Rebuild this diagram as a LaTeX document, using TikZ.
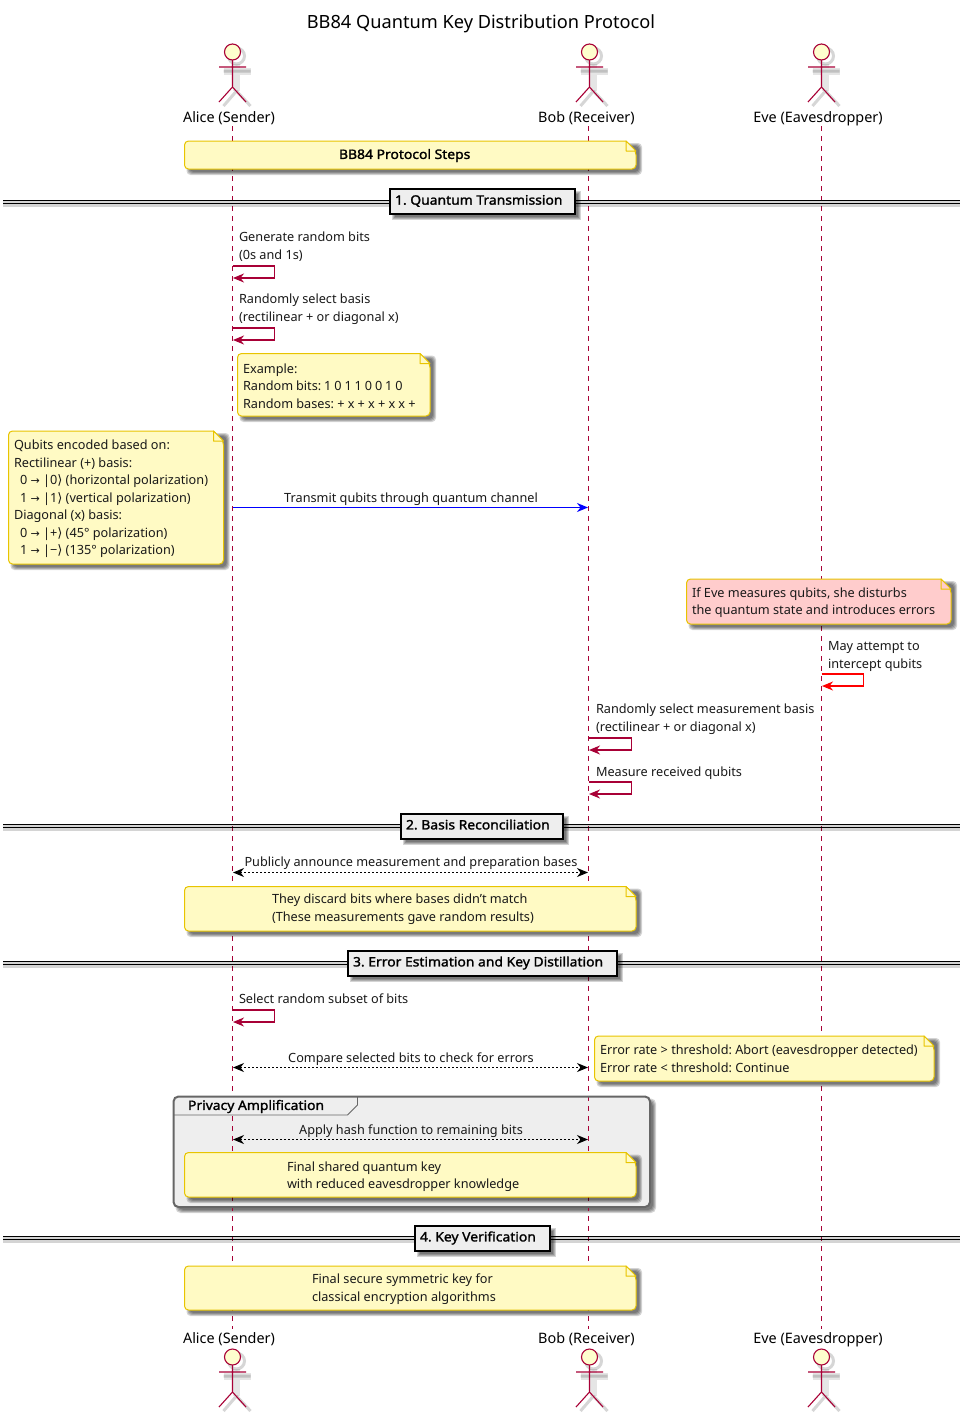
\documentclass[tikz,border=0pt]{standalone}
\usepackage{fontspec}
\setmainfont{Noto Sans}
\newfontfamily\boldfam{Noto Sans}[FakeBold=1.6,FakeStretch=1.07]
\newfontfamily\symfam{DejaVu Sans}
\usetikzlibrary{arrows.meta}
\frenchspacing
\definecolor{umlred}{HTML}{A80036}
\definecolor{notefill}{HTML}{FFFAC4}
\definecolor{noteline}{HTML}{E8C400}
\definecolor{evefill}{HTML}{FFCCCC}
\definecolor{divfill}{HTML}{EEEEEE}
\definecolor{grpline}{HTML}{666666}
\definecolor{headfill}{HTML}{FEFECE}
\newcommand{\arw}{{\symfam\fontsize{11}{17}\selectfont →}}
\newcommand{\ket}[1]{|#1{\symfam\fontsize{13}{17}\selectfont ⟩}}
\tikzset{
  x=1pt,y=-1pt,
  txt/.style={inner sep=0pt,outer sep=0pt,font=\fontsize{12.7}{17.5}\selectfont,align=left,text=black!90},
  btxt/.style={inner sep=0pt,outer sep=0pt,font=\boldfam\fontsize{13}{17}\selectfont,align=left},
  lab/.style={inner sep=0pt,outer sep=0pt,anchor=base,font=\fontsize{14.4}{17}\selectfont},
  life/.style={draw=umlred,line width=0.8pt,dash pattern=on 5pt off 5pt},
  shad/.style={fill=black,opacity=0.17,draw=none},
  selfm/.style={line width=1.2pt,-{Stealth[length=11pt,width=9pt,inset=3.5pt]},line join=miter},
  dbl/.style={line width=1pt,black,dash pattern=on 2pt off 2pt,{Stealth[length=11pt,width=9pt,inset=3.5pt]}-{Stealth[length=11pt,width=9pt,inset=3.5pt]}},
  stick/.style={draw=umlred,line width=1.1pt},
}
% soft shadow of a rectangle
\newcommand{\softshadow}[5]{%
  \foreach \d in {-1,0,1,2}{%
    \fill[shad,rounded corners=#5] (#1+4-\d,#2+4-\d) rectangle (#3+4+\d,#4+4+\d);}%
}
% note: x1 y1 x2 y2 fill
\newcommand{\notebox}[5]{%
  \softshadow{#1}{#2}{#3}{#4}{4}%
  \draw[draw=noteline,fill=#5,line width=1pt,rounded corners=4pt]
    (#3-10,#2) [sharp corners] -- (#3-10,#2) [rounded corners=4pt] -- (#1,#2) -- (#1,#4) -- (#3,#4) -- (#3,#2+10) [sharp corners] -- cycle;
  \draw[draw=noteline,line width=1pt,fill=#5,line join=round] (#3-10,#2) -- (#3-10,#2+10) -- (#3,#2+10) -- cycle;
}
% divider: name, y, x1, x2, y1, y2, text
\newcommand{\divider}[7]{%
  \coordinate (#1L) at (3,#2);
  \coordinate (#1R) at (960,#2);
  \fill[shad] (3,#2-1) rectangle (960,#2+5);
  \draw[black,line width=1pt] ([yshift=1.7pt]#1L) -- ([yshift=1.7pt]#1R);
  \draw[black,line width=1pt] ([yshift=-1.7pt]#1L) -- ([yshift=-1.7pt]#1R);
  \softshadow{#3}{#5}{#4}{#6}{0}%
  \draw[black,fill=divfill,line width=2pt] (#3,#5) rectangle (#4,#6);
  \node[btxt,anchor=west] (#1T) at ({#3+5.5},{(#5+#6)/2}) {\strut #7};
}
% actor
\newcommand{\actor}[2]{%
  \begin{scope}[shift={(#1,#2)}]
    \draw[black,opacity=.10,line width=7pt] (4,12) -- (4,39) (-9,19) -- (18,19);
    \draw[black,opacity=.16,line width=3pt] (4,4) circle[radius=8];
    \draw[black,opacity=.16,line width=3pt] (-9,19) -- (18,19) (4,39) -- (-9,54) (4,39) -- (18,54);
    \fill[white] (0,0) circle[radius=8];
    \draw[stick,fill=headfill] (0,0) circle[radius=8];
    \draw[stick] (0,8) -- (0,35) (-13.5,15) -- (13.5,15) (0,35) -- (-13.5,50) (0,35) -- (13.5,50);
  \end{scope}
}
\begin{document}
\begin{tikzpicture}
\useasboundingbox (0,0) rectangle (971,1417);
\fill[white] (0,0) rectangle (971,1417);

\node[inner sep=0pt,anchor=base,font=\fontsize{18.2}{22}\selectfont] (title) at (481,28.5) {BB84 Quantum Key Distribution Protocol};

% group body (below the lifelines)
\softshadow{173.5}{1096.5}{650}{1207}{5}
\fill[divfill,rounded corners=5pt] (173.5,1096.5) rectangle (650,1207);

% lifelines
\coordinate (aT) at (232.5,126);
\coordinate (aB) at (232.5,1329);
\coordinate (bT) at (588.5,126);
\coordinate (bB) at (588.5,1329);
\coordinate (eT) at (821.5,126);
\coordinate (eB) at (821.5,1329);
\draw[life] (aT) -- (aB);
\draw[life] (bT) -- (bB);
\draw[life] (eT) -- (eB);

% actors top
\actor{232.5}{52}
\actor{589.5}{52}
\actor{821.5}{52}
\node[lab] (aliceTop) at (229,122) {Alice (Sender)};
\node[lab] (bobTop) at (586.5,122) {Bob (Receiver)};
\node[lab] (eveTop) at (818,122) {Eve (Eavesdropper)};
% actors bottom
\node[lab] (aliceBot) at (229,1343) {Alice (Sender)};
\node[lab] (bobBot) at (586.5,1343) {Bob (Receiver)};
\node[lab] (eveBot) at (818,1343) {Eve (Eavesdropper)};
\actor{232.5}{1357}
\actor{589.5}{1357}
\actor{821.5}{1357}

% title note
\notebox{184.5}{141}{636}{169}{notefill}
\node[btxt,anchor=west] (n0) at (339,155.5) {\strut BB84 Protocol Steps};

\divider{d1}{202}{389.5}{575}{188.5}{214}{1. Quantum Transmission}

% self messages
\coordinate (m1a) at (232.5,266);
\coordinate (m1b) at (274.5,266);
\coordinate (m1c) at (274.5,278);
\coordinate (m1d) at (233,278);
\node[txt,anchor=west] (m1t) at (239,246.5) {Generate random bits\\(0s and 1s)};
\draw[selfm,umlred] (m1a) -- (m1b) -- (m1c) -- (m1d);

\coordinate (m2a) at (232.5,328);
\coordinate (m2b) at (274.5,328);
\coordinate (m2c) at (274.5,340);
\coordinate (m2d) at (233,340);
\node[txt,anchor=west] (m2t) at (239,309) {Randomly select basis\\(rectilinear + or diagonal x)};
\draw[selfm,umlred] (m2a) -- (m2b) -- (m2c) -- (m2d);

\notebox{237.5}{353.5}{430}{416}{notefill}
\node[txt,anchor=west] (n1) at (243,386) {Example:\\{\spaceskip=2.9pt Random bits: 1 0 1 1 0 0 1 0}\\{\spaceskip=3.2pt Random bases: + x + x + x x +}};

\notebox{8.5}{431}{223.5}{564}{notefill}
\node[txt,anchor=west] (n2) at (14,499) {Qubits encoded based on:\\Rectilinear (+) basis:\\\hspace*{6pt}0 \arw\ \ket{0} (horizontal polarization)\\\hspace*{6pt}1 \arw\ \ket{1} (vertical polarization)\\Diagonal (x) basis:\\\hspace*{6pt}0 \arw\ \ket{+} (45° polarization)\\\hspace*{6pt}1 \arw\ \ket{−} (135° polarization)};

\coordinate (m3a) at (232.5,507.5);
\coordinate (m3b) at (588,507.5);
\node[txt,anchor=center] (m3t) at (411,499) {Transmit qubits through quantum channel};
\draw[selfm,blue,line width=1.5pt] (m3a) -- (m3b);

\notebox{686.5}{579}{951}{624}{evefill}
\node[txt,anchor=west] (n3) at (692,602.5) {If Eve measures qubits, she disturbs\\the quantum state and introduces errors};

\coordinate (m4a) at (821.5,674);
\coordinate (m4b) at (863.5,674);
\coordinate (m4c) at (863.5,686);
\coordinate (m4d) at (822,686);
\node[txt,anchor=west] (m4t) at (828,656.5) {May attempt to\\intercept qubits};
\draw[selfm,red] (m4a) -- (m4b) -- (m4c) -- (m4d);

\coordinate (m5a) at (588.5,738);
\coordinate (m5b) at (631.5,738);
\coordinate (m5c) at (631.5,750);
\coordinate (m5d) at (589,750);
\node[txt,anchor=west] (m5t) at (596,719) {Randomly select measurement basis\\(rectilinear + or diagonal x)};
\draw[selfm,umlred] (m5a) -- (m5b) -- (m5c) -- (m5d);

\coordinate (m6a) at (588.5,782);
\coordinate (m6b) at (631.5,782);
\coordinate (m6c) at (631.5,794);
\coordinate (m6d) at (589,794);
\node[txt,anchor=west] (m6t) at (596,773) {Measure received qubits};
\draw[selfm,umlred] (m6a) -- (m6b) -- (m6c) -- (m6d);

\divider{d2}{826}{400.5}{563}{813.5}{838.5}{2. Basis Reconciliation}

\coordinate (m7a) at (233,872.5);
\coordinate (m7b) at (588,872.5);
\node[txt,anchor=center] (m7t) at (411,863) {Publicly announce measurement and preparation bases};
\draw[dbl] (m7a) -- (m7b);

\notebox{184.5}{886.5}{636}{931}{notefill}
\node[txt,anchor=west] (n4) at (272,909) {They discard bits where bases didn't match\\(These measurements gave random results)};

\divider{d3}{963}{347.5}{617}{950.5}{975.5}{3. Error Estimation and Key Distillation}

\coordinate (m8a) at (232.5,1010);
\coordinate (m8b) at (274.5,1010);
\coordinate (m8c) at (274.5,1022);
\coordinate (m8d) at (233,1022);
\node[txt,anchor=west] (m8t) at (239,999) {Select random subset of bits};
\draw[selfm,umlred] (m8a) -- (m8b) -- (m8c) -- (m8d);

\coordinate (m9a) at (233,1067.5);
\coordinate (m9b) at (588,1067.5);
\node[txt,anchor=center] (m9t) at (411,1059) {Compare selected bits to check for errors};
\draw[dbl] (m9a) -- (m9b);

\notebox{594.5}{1036}{934}{1081}{notefill}
\node[txt,anchor=west] (n5) at (600,1058.5) {Error rate > threshold: Abort (eavesdropper detected)\\Error rate < threshold: Continue};

% group tab and frame
\fill[divfill] (173.5,1101) -- (178,1096.5) -- (357.5,1096.5) -- (357.5,1105) -- (347.5,1115) -- (173.5,1115) -- cycle;
\draw[grpline,line width=0.8pt] (173.5,1115) -- (347.5,1115) -- (357.5,1105) -- (357.5,1096.5);
\draw[grpline,line width=2pt,rounded corners=5pt] (173.5,1096.5) rectangle (650,1207);
\node[btxt,anchor=west] (g1) at (188,1106.5) {\strut Privacy Amplification};

\coordinate (m10a) at (233,1139.5);
\coordinate (m10b) at (588,1139.5);
\node[txt,anchor=center] (m10t) at (411,1131) {Apply hash function to remaining bits};
\draw[dbl] (m10a) -- (m10b);

\notebox{184.5}{1152.5}{636}{1197}{notefill}
\node[txt,anchor=west] (n6) at (287,1176.5) {Final shared quantum key\\with reduced eavesdropper knowledge};

\divider{d4}{1238}{414.5}{549.5}{1225.5}{1250.5}{4. Key Verification}

\notebox{184.5}{1266}{636}{1310}{notefill}
\node[txt,anchor=west] (n7) at (312,1289) {Final secure symmetric key for\\classical encryption algorithms};
\end{tikzpicture}
\end{document}
